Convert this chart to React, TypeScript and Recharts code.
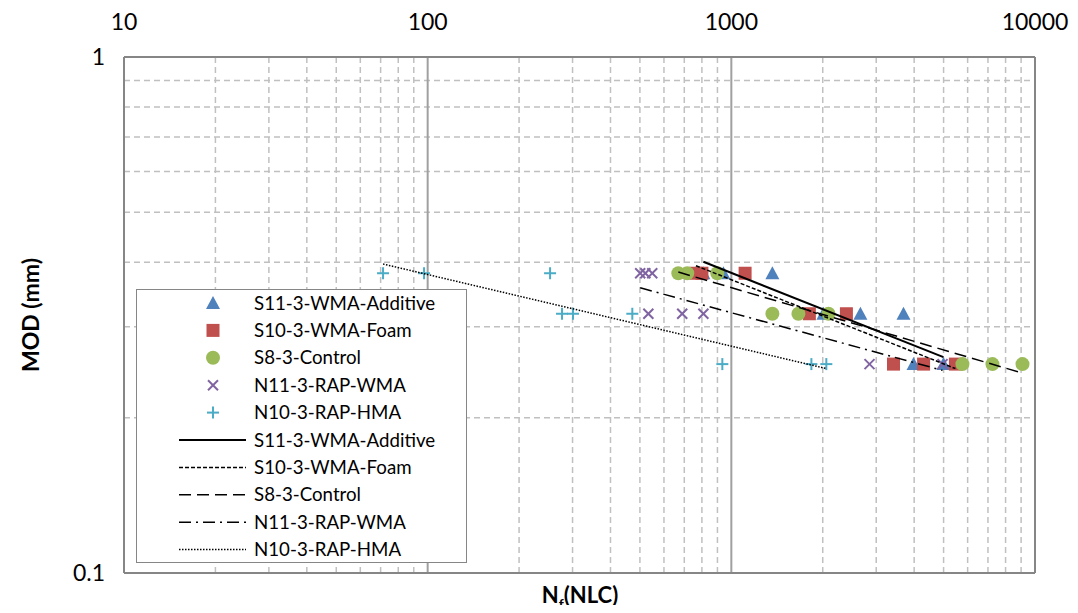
import { ReferenceLine, Scatter, ScatterChart, XAxis, YAxis } from "recharts"

// MOD rows are 0.015", 0.0125" and 0.01" converted to mm
const s11Additive = [
  { nf: 809, mod: 0.381 },
  { nf: 942, mod: 0.381 },
  { nf: 1365, mod: 0.381 },
  { nf: 2010, mod: 0.318 },
  { nf: 2661, mod: 0.318 },
  { nf: 3689, mod: 0.318 },
  { nf: 3981, mod: 0.254 },
  { nf: 4995, mod: 0.254 },
]
const s10Foam = [
  { nf: 765, mod: 0.381 },
  { nf: 800, mod: 0.381 },
  { nf: 1110, mod: 0.381 },
  { nf: 1807, mod: 0.318 },
  { nf: 2393, mod: 0.318 },
  { nf: 3420, mod: 0.254 },
  { nf: 4296, mod: 0.254 },
  { nf: 5469, mod: 0.254 },
]
const s8Control = [
  { nf: 669, mod: 0.381 },
  { nf: 716, mod: 0.381 },
  { nf: 899, mod: 0.381 },
  { nf: 1365, mod: 0.318 },
  { nf: 1663, mod: 0.318 },
  { nf: 2089, mod: 0.318 },
  { nf: 5768, mod: 0.254 },
  { nf: 7241, mod: 0.254 },
  { nf: 9095, mod: 0.254 },
]
const n11RapWma = [
  { nf: 501, mod: 0.381 },
  { nf: 521, mod: 0.381 },
  { nf: 549, mod: 0.381 },
  { nf: 533, mod: 0.318 },
  { nf: 689, mod: 0.318 },
  { nf: 809, mod: 0.318 },
  { nf: 2851, mod: 0.254 },
  { nf: 4960, mod: 0.254 },
]
const n10RapHma = [
  { nf: 71.3, mod: 0.381 },
  { nf: 97.3, mod: 0.381 },
  { nf: 253, mod: 0.381 },
  { nf: 277, mod: 0.318 },
  { nf: 301, mod: 0.318 },
  { nf: 472, mod: 0.318 },
  { nf: 934, mod: 0.254 },
  { nf: 1835, mod: 0.254 },
  { nf: 2055, mod: 0.254 },
]

// power trend lines (straight on log-log), end points
const s11Trend = [{ nf: 809, mod: 0.401 }, { nf: 4995, mod: 0.262 }]
const s10Trend = [{ nf: 765, mod: 0.394 }, { nf: 5469, mod: 0.249 }]
const s8Trend = [{ nf: 669, mod: 0.383 }, { nf: 9095, mod: 0.244 }]
const n11Trend = [{ nf: 501, mod: 0.357 }, { nf: 4960, mod: 0.247 }]
const n10Trend = [{ nf: 71.3, mod: 0.397 }, { nf: 2055, mod: 0.249 }]

const xTicks = [10, 100, 1000, 10000]
const yTicks = [0.1, 1]
const xMinor = [20, 30, 40, 50, 60, 70, 80, 90, 200, 300, 400, 500, 600, 700, 800, 900, 2000, 3000, 4000, 5000, 6000, 7000, 8000, 9000]
const yMinor = [0.2, 0.3, 0.4, 0.5, 0.6, 0.7, 0.8, 0.9]

const FONT = "Lato, 'Open Sans', sans-serif"

const Triangle = ({ cx, cy }: any) => (
  <polygon points={`${cx},${cy - 7} ${cx - 7},${cy + 6} ${cx + 7},${cy + 6}`} fill="#4F81BD" />
)
const Square = ({ cx, cy }: any) => <rect x={cx - 6.5} y={cy - 6.5} width={13} height={13} fill="#C0504D" />
const Dot = ({ cx, cy }: any) => <circle cx={cx} cy={cy} r={7} fill="#9BBB59" />
const Cross = ({ cx, cy }: any) => (
  <g stroke="#8064A2" strokeWidth={2}>
    <line x1={cx - 5} y1={cy - 5} x2={cx + 5} y2={cy + 5} />
    <line x1={cx - 5} y1={cy + 5} x2={cx + 5} y2={cy - 5} />
  </g>
)
const Plus = ({ cx, cy }: any) => (
  <g stroke="#4BACC6" strokeWidth={2}>
    <line x1={cx - 6} y1={cy} x2={cx + 6} y2={cy} />
    <line x1={cx} y1={cy - 6} x2={cx} y2={cy + 6} />
  </g>
)
const NoDot = () => null

const markerItems = [
  { name: "S11-3-WMA-Additive", Shape: Triangle },
  { name: "S10-3-WMA-Foam", Shape: Square },
  { name: "S8-3-Control", Shape: Dot },
  { name: "N11-3-RAP-WMA", Shape: Cross },
  { name: "N10-3-RAP-HMA", Shape: Plus },
]
const lineItems = [
  { name: "S11-3-WMA-Additive", dash: undefined, width: 2 },
  { name: "S10-3-WMA-Foam", dash: "4 2", width: 1.5 },
  { name: "S8-3-Control", dash: "12 6", width: 1.5 },
  { name: "N11-3-RAP-WMA", dash: "12 5 2 5", width: 1.5 },
  { name: "N10-3-RAP-HMA", dash: "1.5 1.5", width: 1.5 },
]

function ChartLegend() {
  const rowH = 27.4
  return (
    <div
      style={{
        position: "absolute",
        left: 128,
        top: 281,
        width: 331,
        height: 274,
        background: "#fff",
        border: "1.5px solid #868686",
        boxSizing: "border-box",
      }}
    >
      <svg width={331} height={274}>
        {markerItems.map(({ name, Shape }, i) => (
          <g key={name}>
            <Shape cx={76} cy={13 + i * rowH} />
            <text x={117} y={13 + i * rowH} dy="0.35em" fontSize={18.7} fontFamily={FONT}>
              {name}
            </text>
          </g>
        ))}
        {lineItems.map(({ name, dash, width }, i) => (
          <g key={"l" + name}>
            <line x1={42} x2={109} y1={13 + (i + 5) * rowH} y2={13 + (i + 5) * rowH} stroke="#000" strokeWidth={width} strokeDasharray={dash} />
            <text x={117} y={13 + (i + 5) * rowH} dy="0.35em" fontSize={18.7} fontFamily={FONT}>
              {name}
            </text>
          </g>
        ))}
      </svg>
    </div>
  )
}

export default function App() {
  const tickStyle = { fill: "#000", fontSize: 23, fontFamily: FONT }
  return (
    <div style={{ position: "relative", width: 1062, height: 597 }}>
      <ScatterChart width={1062} height={597} margin={{ top: 9, right: 35, bottom: 32, left: 56 }}>
        <XAxis
          type="number"
          dataKey="nf"
          scale="log"
          domain={[10, 10000]}
          ticks={xTicks}
          orientation="top"
          height={40}
          axisLine={false}
          tickLine={false}
          tickSize={0}
          tickMargin={27}
          allowDataOverflow
          tick={tickStyle}
        />
        <YAxis
          type="number"
          dataKey="mod"
          scale="log"
          domain={[0.1, 1]}
          ticks={yTicks}
          width={60}
          axisLine={false}
          tickLine={false}
          tickSize={0}
          tickMargin={19}
          allowDataOverflow
          tick={tickStyle}
        />
        {xMinor.map((v) => (
          <ReferenceLine key={"x" + v} x={v} stroke="#C0C0C0" strokeWidth={1.5} strokeDasharray="6 4" />
        ))}
        {yMinor.map((v) => (
          <ReferenceLine key={"y" + v} y={v} stroke="#C0C0C0" strokeWidth={1.5} strokeDasharray="6 4" />
        ))}
        <ReferenceLine x={100} stroke="#A0A0A0" strokeWidth={2} />
        <ReferenceLine x={1000} stroke="#A0A0A0" strokeWidth={2} />
        <ReferenceLine x={10} stroke="#868686" strokeWidth={2} />
        <ReferenceLine x={10000} stroke="#868686" strokeWidth={2} />
        <ReferenceLine y={1} stroke="#868686" strokeWidth={2} />
        <ReferenceLine y={0.1} stroke="#868686" strokeWidth={2} />

        <Scatter name="S11-3-WMA-Additive" data={s11Additive} shape={Triangle} isAnimationActive={false} />
        <Scatter name="S10-3-WMA-Foam" data={s10Foam} shape={Square} isAnimationActive={false} />
        <Scatter name="S8-3-Control" data={s8Control} shape={Dot} isAnimationActive={false} />
        <Scatter name="N11-3-RAP-WMA" data={n11RapWma} shape={Cross} isAnimationActive={false} />
        <Scatter name="N10-3-RAP-HMA" data={n10RapHma} shape={Plus} isAnimationActive={false} />

        <Scatter data={s11Trend} shape={NoDot} line={{ stroke: "#000", strokeWidth: 2 }} isAnimationActive={false} />
        <Scatter data={s10Trend} shape={NoDot} line={{ stroke: "#000", strokeWidth: 1.5, strokeDasharray: "4 2" }} isAnimationActive={false} />
        <Scatter data={s8Trend} shape={NoDot} line={{ stroke: "#000", strokeWidth: 1.5, strokeDasharray: "12 6" }} isAnimationActive={false} />
        <Scatter data={n11Trend} shape={NoDot} line={{ stroke: "#000", strokeWidth: 1.5, strokeDasharray: "12 5 2 5" }} isAnimationActive={false} />
        <Scatter data={n10Trend} shape={NoDot} line={{ stroke: "#000", strokeWidth: 1.5, strokeDasharray: "1.5 1.5" }} isAnimationActive={false} />
      </ScatterChart>

      <ChartLegend />

      <div
        style={{
          position: "absolute",
          left: 22,
          top: 307,
          transform: "translate(-50%, -50%) rotate(-90deg)",
          fontFamily: FONT,
          fontWeight: "bold",
          fontSize: 23,
          whiteSpace: "nowrap",
        }}
      >
        MOD (mm)
      </div>
      <div
        style={{
          position: "absolute",
          left: 572,
          top: 587,
          transform: "translate(-50%, -50%)",
          fontFamily: FONT,
          fontWeight: "bold",
          fontSize: 22,
          lineHeight: 1,
          whiteSpace: "nowrap",
        }}
      >
        N<span style={{ fontSize: 14, position: "relative", top: 6 }}>f</span>(NLC)
      </div>
    </div>
  )
}
